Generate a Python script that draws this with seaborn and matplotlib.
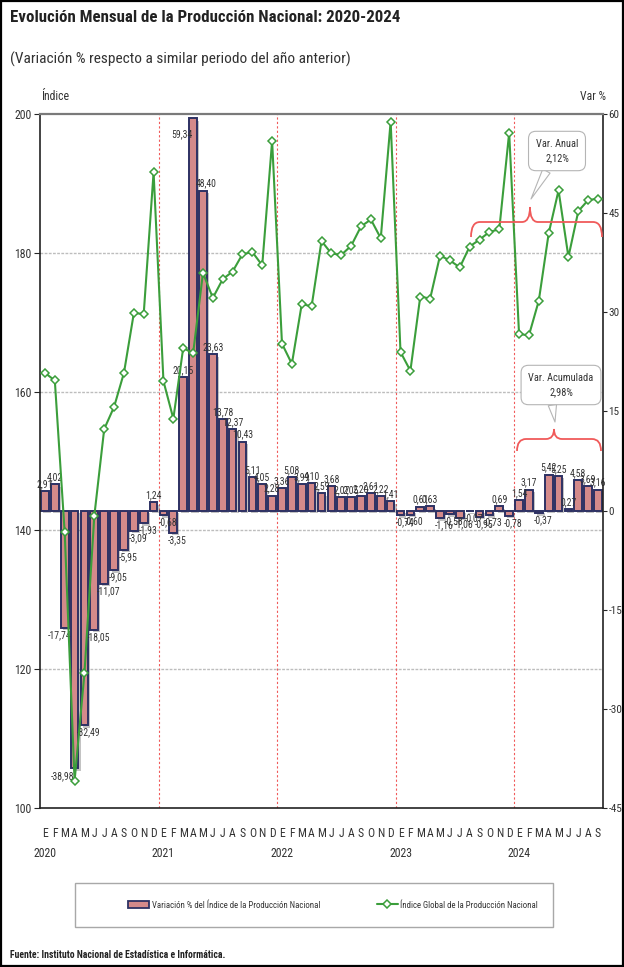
import numpy as np
import pandas as pd
import matplotlib
matplotlib.use('Agg')
import matplotlib.pyplot as plt
import seaborn as sns
from matplotlib.patches import Rectangle, Patch, PathPatch
from matplotlib.lines import Line2D
from matplotlib.path import Path
import matplotlib.patheffects as pe
import matplotlib.transforms as mtrans
from matplotlib import font_manager as fm
import logging
logging.getLogger('matplotlib.font_manager').setLevel(logging.ERROR)

# ---------------- data ----------------
years = ['2020', '2021', '2022', '2023', '2024']
month_letters = ['E', 'F', 'M', 'A', 'M', 'J', 'J', 'A', 'S', 'O', 'N', 'D']

var_2020 = [2.91, 4.02, -17.74, -38.98, -32.49, -18.05, -11.07, -9.05, -5.95, -3.09, -1.93, 1.24]
var_2021 = [-0.68, -3.35, 20.15, 59.34, 48.40, 23.63, 13.78, 12.37, 10.43, 5.11, 4.05, 2.28]
var_2022 = [3.36, 5.08, 3.99, 4.10, 2.59, 3.68, 2.07, 2.05, 2.20, 2.61, 2.22, 1.41]
var_2023 = [-0.74, -0.60, 0.61, 0.63, -1.16, -0.58, -1.06, -0.07, -0.95, -0.73, 0.69, -0.78]
var_2024 = [1.54, 3.17, -0.37, 5.42, 5.25, 0.27, 4.58, 3.69, 3.16]

idx_2020 = [162.7, 161.6, 139.7, 103.9, 119.4, 142.1, 154.6, 157.8, 162.7, 171.3, 171.2, 191.6]
idx_2021 = [161.5, 156.1, 166.3, 165.5, 177.1, 173.5, 176.2, 177.3, 179.8, 180.1, 178.2, 196.1]
idx_2022 = [166.9, 164.0, 172.6, 172.3, 181.7, 179.9, 179.7, 181.0, 183.8, 184.8, 182.1, 198.9]
idx_2023 = [165.7, 163.0, 173.7, 173.4, 179.6, 178.9, 177.9, 180.9, 181.9, 183.0, 183.4, 197.3]
idx_2024 = [168.3, 168.1, 173.1, 182.8, 189.0, 179.4, 186.0, 187.6, 187.8]

left_ticks = [100, 120, 140, 160, 180, 200]
right_ticks = [-45, -30, -15, 0, 15, 30, 45, 60]
grid_levels = [120, 140, 160, 180]

var_all = var_2020 + var_2021 + var_2022 + var_2023 + var_2024
idx_all = idx_2020 + idx_2021 + idx_2022 + idx_2023 + idx_2024
n = len(var_all)
keys = [f'{y}-{m + 1:02d}' for y in years for m in range(12)][:n]
df = pd.DataFrame({'mes': keys, 'var': var_all, 'indice': idx_all, 'pos': np.arange(n)})

# ---------------- style ----------------
sns.set_style('white')
avail = {f.name for f in fm.fontManager.ttflist}
cands = ['Liberation Sans Narrow', 'DejaVu Sans Condensed', 'Roboto Condensed',
         'Open Sans Condensed', 'Liberation Sans', 'DejaVu Sans']
FAM = [c for c in cands if c in avail] or ['DejaVu Sans']
plt.rcParams['font.family'] = FAM
plt.rcParams['font.stretch'] = 'condensed'

BAR = '#d48a8a'
EDGE = '#2d3163'
GREEN = '#3b9e3b'
RED = '#f05a5a'
TXT = '#333333'

W, H = 624, 967
fig = plt.figure(figsize=(W / 100, H / 100), dpi=100)


def fp(x, y):
    return (x / W, 1 - y / H)


axL = fig.add_axes([40 / W, 1 - 808 / H, 563 / W, 694 / H])
axR = axL.twinx()

# bars (right axis, Var %)
sns.barplot(data=df, x='mes', y='var', order=keys, ax=axR, color=BAR, edgecolor=EDGE,
            linewidth=1.4, width=0.78, saturation=1, errorbar=None, zorder=3)
for p in axR.patches:
    p.set_path_effects([pe.SimplePatchShadow(offset=(1.5, -1.8), shadow_rgbFace='#555555', alpha=0.35),
                        pe.Normal()])

# line (left axis, Índice)
sns.lineplot(data=df, x='pos', y='indice', ax=axL, color=GREEN, lw=1.5, marker='D',
             markersize=4.5, markerfacecolor='white', markeredgecolor=GREEN,
             markeredgewidth=1.1, zorder=5, legend=False)

axL.set_zorder(axR.get_zorder() + 1)
axL.patch.set_visible(False)

axL.set_ylim(100, 200)
axR.set_ylim(-45, 60)
axL.set_xlim(-0.5, n - 0.5)
axL.set_yticks(left_ticks)
axR.set_yticks(right_ticks)
axL.set_yticklabels([str(t) for t in left_ticks])
axR.set_yticklabels([str(t) for t in right_ticks])
for a in (axL, axR):
    a.set_xlabel('')
    a.set_ylabel('')

# gridlines (left-axis levels) drawn behind bars
gtrans = mtrans.blended_transform_factory(axR.transAxes, axL.transData)
for g in grid_levels:
    axR.plot([0, 1], [g, g], transform=gtrans, color='#bdbdbd', lw=1.0, ls=(0, (2, 1)), zorder=0.5)

# year separators
for b in [11.5, 23.5, 35.5, 47.5]:
    axR.axvline(b, color=RED, ls=(0, (2, 2)), lw=0.8, zorder=0.6)

# x ticks
axL.set_xticks([-0.5, 11.5, 23.5, 35.5, 47.5])
axL.set_xticklabels([''] * 5)
axL.set_xticks(np.arange(n), minor=True)
axL.set_xticklabels([month_letters[i % 12] for i in range(n)], minor=True)
axL.tick_params(axis='x', which='major', length=6, direction='inout', color='#333333', width=0.8)
axL.tick_params(axis='x', which='minor', length=0, pad=14, labelsize=8.5, labelcolor=TXT)
xt = axL.get_xaxis_transform()
for i, y in enumerate(years):
    axL.text(i * 12, -0.066, y, transform=xt, ha='center', va='center', fontsize=8.5, color=TXT)

axL.tick_params(axis='y', length=4, direction='out', labelsize=8.5, labelcolor=TXT, pad=2)
axR.tick_params(axis='y', length=3, direction='out', labelsize=8, labelcolor=TXT, pad=1)

for s in axR.spines.values():
    s.set_visible(False)
for name, s in axL.spines.items():
    s.set_visible(True)
    s.set_color('#222222')
    s.set_linewidth(1.2)
axL.spines['top'].set_color('#7a7a7a')
axL.spines['top'].set_linewidth(1.6)

# bar value labels
special = {2: (-4, -1.5, 'top'), 3: (-9, -2.5, 'top'), 15: (-8, -8, 'top'), 16: (2, 1.5, 'bottom')}
for i, v in enumerate(var_all):
    lab = f'{v:.2f}'.replace('.', ',')
    if v >= 0:
        dx, dy, va = 0, 1.5, 'bottom'
    else:
        dx, dy, va = 3, -1.5, 'top'
    if i in special:
        dx, dy, va = special[i]
    axR.annotate(lab, xy=(i, v), xytext=(dx, dy), textcoords='offset points', ha='center', va=va,
                 fontsize=7, color=TXT, zorder=6)

# titles
fig.text(10 / W, 1 - 18 / H, 'Evolución Mensual de la Producción Nacional: 2020-2024',
         fontsize=12.2, fontweight='bold', color='#222222', ha='left', va='center')
fig.text(10 / W, 1 - 59 / H, '(Variación % respecto a similar periodo del año anterior)',
         fontsize=11.1, color='#333333', ha='left', va='center')
fig.text(55 / W, 1 - 97 / H, 'Índice', fontsize=8.5, color=TXT, ha='center', va='center')
fig.text(593 / W, 1 - 97 / H, 'Var %', fontsize=8.5, color=TXT, ha='center', va='center')

# callouts
for txt, tip, ctr in [('Var. Anual\n2,12%', (531, 199), (557, 151)),
                      ('Var. Acumulada\n2,98%', (555, 422), (561, 385))]:
    axL.annotate(txt, xy=fp(*tip), xycoords='figure fraction', xytext=fp(*ctr),
                 textcoords='figure fraction', ha='center', va='center', fontsize=7.5,
                 color=TXT, linespacing=1.6, annotation_clip=False, zorder=10,
                 bbox=dict(boxstyle='round,pad=0.7,rounding_size=0.7', fc='white', ec='#b5b5b5', lw=0.8),
                 arrowprops=dict(arrowstyle='wedge,tail_width=0.8,shrink_factor=0.5', fc='white',
                                 ec='#b5b5b5', lw=0.8, relpos=(0.35, 0.0), shrinkA=0, shrinkB=0))


def brace(x0, x1, xm, yb, yend, ypk):
    pts = [fp(x0, yend), fp(x0, yb), fp(x0 + 9, yb), fp(xm - 8, yb), fp(xm, yb), fp(xm, ypk),
           fp(xm, yb), fp(xm + 8, yb), fp(x1 - 9, yb), fp(x1, yb), fp(x1, yend)]
    codes = [Path.MOVETO, Path.CURVE3, Path.CURVE3, Path.LINETO, Path.CURVE3, Path.CURVE3,
             Path.CURVE3, Path.CURVE3, Path.LINETO, Path.CURVE3, Path.CURVE3]
    fig.add_artist(PathPatch(Path(pts, codes), fill=False, ec=RED, lw=1.3,
                             transform=fig.transFigure, zorder=9))


brace(471, 602, 530, 222, 237, 207)
brace(517, 601, 554, 439, 451, 429)

# legend
fig.add_artist(Rectangle(fp(75, 927), 478 / W, 44 / H, transform=fig.transFigure,
                         fill=False, ec='#a8a8a8', lw=1.0))
handles = [Patch(facecolor=BAR, edgecolor=EDGE, linewidth=1.3),
           Line2D([], [], color=GREEN, lw=1.5, marker='D', markersize=4, markerfacecolor='white',
                  markeredgecolor=GREEN, markeredgewidth=1.1)]
labels = ['Variación % del Índice de la Producción Nacional', 'Índice Global de la Producción Nacional']
fig.legend(handles, labels, loc='center', bbox_to_anchor=fp(333, 905), ncol=2, frameon=False,
           fontsize=6.3, columnspacing=6.5, handlelength=2.4, handletextpad=0.3,
           labelcolor=TXT)

fig.text(10 / W, 1 - 955 / H, 'Fuente: Instituto Nacional de Estadística e Informática.',
         fontsize=7, fontweight='bold', color='#222222', ha='left', va='center')

# outer border
fig.add_artist(Rectangle((0.002, 0.001), 0.996, 0.998, transform=fig.transFigure,
                         fill=False, ec='black', lw=1.6))

fig.savefig('out.png', dpi=100)
